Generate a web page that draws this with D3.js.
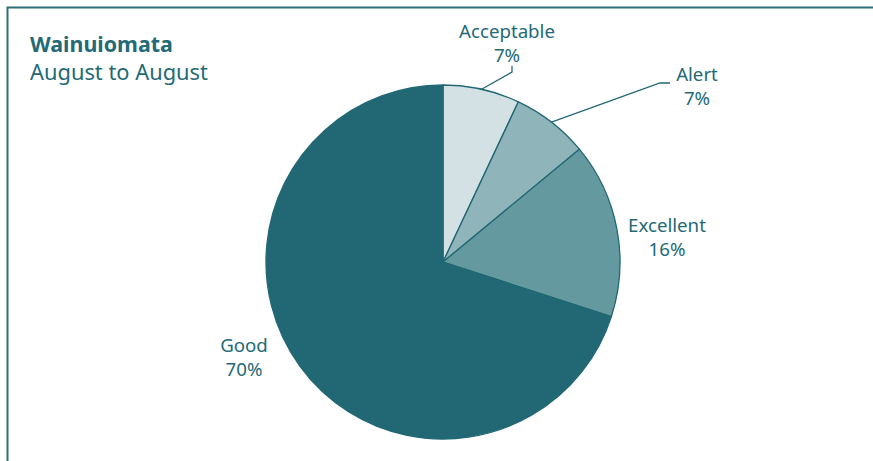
<!DOCTYPE html>
<html><head><meta charset="utf-8">
<script src="https://cdn.jsdelivr.net/npm/d3@7"></script>
<style>body{margin:0;background:#fff}svg{display:block}</style>
</head><body>
<svg id="c" width="873" height="461"></svg>
<script>
const categories = ["Acceptable", "Alert", "Excellent", "Good"];
const values = [7, 7, 16, 70];
const colors = ["#d3e1e4", "#8fb4ba", "#64999f", "#216874"];
const title = "Wainuiomata";
const subtitle = "August to August";

const svg = d3.select("#c");
const ink = "#236a76";
const font = "'Noto Sans', sans-serif";

// frame
svg.append("path").attr("d", "M7.5,461 V7.5 H873").attr("fill", "none")
  .attr("stroke", "#2f6f7b").attr("stroke-width", 2);

function fit(sel, w) {
  const bb = sel.node().getComputedTextLength();
  const fs = parseFloat(sel.attr("font-size"));
  sel.attr("font-size", fs * w / bb);
}

const t1 = svg.append("text").attr("x", 30).attr("y", 52).text(title)
  .attr("font-family", font).attr("font-weight", "bold").attr("font-size", 20).attr("fill", ink);
fit(t1, 143);
const t2 = svg.append("text").attr("x", 30).attr("y", 80).text(subtitle)
  .attr("font-family", font).attr("font-size", 20).attr("fill", ink);
fit(t2, 178);

const cx = 443, cy = 262, r = 177;
const data = categories.map((c, i) => ({cat: c, v: values[i], col: colors[i]}));
const pie = d3.pie().value(d => d.v).sort(null);
const arcs = pie(data);
const arc = d3.arc().innerRadius(0).outerRadius(r);
const g = svg.append("g").attr("transform", `translate(${cx},${cy})`);
g.selectAll("path").data(arcs).join("path")
  .attr("d", arc).attr("fill", d => d.data.col)
  .attr("stroke", "#216874").attr("stroke-width", 1.3).attr("stroke-linejoin", "round");

// labels
const lab = [
  {x: 507, y: 38},
  {x: 697, y: 81},
  {x: 667, y: 232},
  {x: 244, y: 352}
];
const probe = svg.append("text").attr("font-family", font).attr("font-size", 17).text("Acceptable");
const lfs = 17 * 96 / probe.node().getComputedTextLength();
probe.remove();
arcs.forEach((a, i) => {
  svg.append("text").attr("text-anchor", "middle")
    .attr("font-family", font).attr("font-size", lfs).attr("fill", ink)
    .attr("x", lab[i].x).attr("y", lab[i].y).text(a.data.cat);
  svg.append("text").attr("text-anchor", "middle")
    .attr("font-family", font).attr("font-size", lfs).attr("fill", ink)
    .attr("x", lab[i].x).attr("y", lab[i].y + 24).text(Math.round(a.data.v) + "%");
});

// leader lines
function pt(a, rr) { const m = (a.startAngle + a.endAngle) / 2; return [cx + rr * Math.sin(m), cy - rr * Math.cos(m)]; }
const p0 = pt(arcs[0], r);
const p1 = pt(arcs[1], r);
svg.append("path").attr("fill", "none").attr("stroke", "#216874").attr("stroke-width", 1.3)
  .attr("d", `M${p0[0]},${p0[1]} L512,72 V66`);
svg.append("path").attr("fill", "none").attr("stroke", "#216874").attr("stroke-width", 1.3)
  .attr("d", `M${p1[0]},${p1[1]} L660,83 H670`);
</script>
</body></html>
